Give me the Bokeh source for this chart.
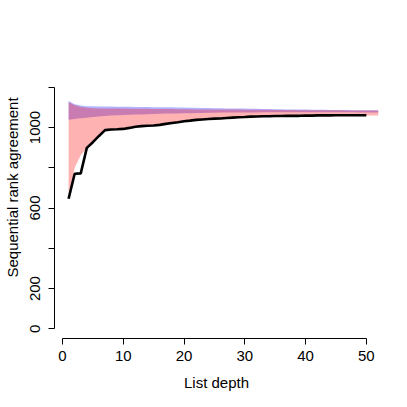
from bokeh.plotting import figure
from bokeh.models import Range1d, FixedTicker
from bokeh.embed import file_html
from bokeh.resources import INLINE

depth_band = list(range(1, 53))
depth_line = list(range(1, 51))

red_lower = [646, 800, 862, 899, 927, 958, 985, 989, 990, 992, 997, 1002, 1006, 1008, 1010, 1013,
             1017, 1021, 1025, 1030, 1033, 1037, 1039, 1041, 1043, 1045, 1047, 1048, 1050, 1051,
             1053, 1054, 1055, 1055, 1056, 1056, 1057, 1057, 1057, 1058, 1058, 1059, 1059, 1059,
             1060, 1060, 1060, 1060, 1060, 1060, 1060, 1060]
red_upper = [1126, 1110, 1102, 1098, 1096, 1095, 1095, 1094, 1094, 1094, 1093, 1093, 1093, 1093,
             1092, 1092, 1092, 1092, 1091, 1091, 1091, 1090, 1090, 1090, 1090, 1089, 1089, 1089,
             1089, 1088, 1088, 1088, 1088, 1088, 1087, 1087, 1087, 1087, 1086, 1086, 1086, 1086,
             1086, 1086, 1086, 1086, 1085, 1085, 1085, 1085, 1085, 1085]
blue_lower = [1038, 1042, 1046, 1049, 1052, 1055, 1057, 1059, 1061, 1062, 1063, 1064, 1065, 1066,
              1067, 1068, 1069, 1070, 1070, 1071, 1071, 1072, 1072, 1073, 1073, 1074, 1074, 1074,
              1075, 1075, 1075, 1075, 1076, 1076, 1076, 1076, 1076, 1076, 1076, 1076, 1076, 1076,
              1076, 1076, 1076, 1076, 1076, 1076, 1075, 1075, 1075, 1075]
blue_upper = [1132, 1116, 1109, 1106, 1105, 1104, 1104, 1104, 1103, 1103, 1103, 1102, 1102, 1102,
              1101, 1101, 1100, 1100, 1099, 1099, 1098, 1098, 1097, 1097, 1096, 1096, 1095, 1095,
              1094, 1094, 1093, 1093, 1092, 1092, 1091, 1091, 1090, 1090, 1089, 1089, 1088, 1088,
              1088, 1087, 1087, 1087, 1087, 1086, 1086, 1086, 1086, 1086]
agreement = [646, 770, 772, 899, 927, 958, 987, 990, 991, 993, 998, 1004, 1007, 1009, 1010, 1013,
             1018, 1022, 1026, 1031, 1034, 1038, 1040, 1042, 1044, 1045, 1047, 1049, 1051, 1052,
             1054, 1055, 1056, 1056, 1057, 1057, 1058, 1058, 1058, 1059, 1059, 1060, 1060, 1060,
             1061, 1061, 1061, 1061, 1061, 1061]

x_ticks = [0, 10, 20, 30, 40, 50]
y_ticks = [0, 200, 400, 600, 800, 1000, 1200]
y_tick_labels = {0: "0", 200: "200", 400: "", 600: "600", 800: "", 1000: "1000", 1200: ""}

FONT = "Liberation Sans"

p = figure(width=399, height=399, output_backend="svg", toolbar_location=None,
           x_range=Range1d(-1.32, 52.0), y_range=Range1d(-48, 1452),
           min_border_left=54, min_border_right=21, min_border_top=36, min_border_bottom=61)
p.outline_line_color = None
p.grid.visible = False
p.background_fill_color = "white"
p.border_fill_color = "white"

p.varea(x=depth_band, y1=blue_lower, y2=blue_upper, fill_color="blue", fill_alpha=0.3)
p.varea(x=depth_band, y1=red_lower, y2=red_upper, fill_color="red", fill_alpha=0.3)
p.line(x=depth_line, y=agreement, line_color="black", line_width=2.6)

for ax in (p.xaxis[0], p.yaxis[0]):
    ax.axis_line_color = "black"
    ax.major_tick_line_color = "black"
    ax.minor_tick_line_color = None
    ax.major_tick_out = 6
    ax.major_tick_in = 0
    ax.major_label_text_font = FONT
    ax.major_label_text_font_size = "15px"
    ax.major_label_text_color = "black"
    ax.axis_label_text_font = FONT
    ax.axis_label_text_font_size = "15px"
    ax.axis_label_text_font_style = "normal"
    ax.axis_label_text_color = "black"

p.xaxis[0].ticker = FixedTicker(ticks=x_ticks)
p.xaxis[0].bounds = (0, 50)
p.xaxis[0].axis_label = "List depth"
p.xaxis[0].major_label_standoff = 6
p.xaxis[0].axis_label_standoff = 10

p.yaxis[0].ticker = FixedTicker(ticks=y_ticks)
p.yaxis[0].major_label_overrides = y_tick_labels
p.yaxis[0].bounds = (0, 1200)
p.yaxis[0].axis_label = "Sequential rank agreement"
p.yaxis[0].major_label_orientation = "vertical"
p.yaxis[0].major_label_standoff = 8
p.yaxis[0].axis_label_standoff = 7

open("out.html", "w").write(file_html(p, INLINE))
